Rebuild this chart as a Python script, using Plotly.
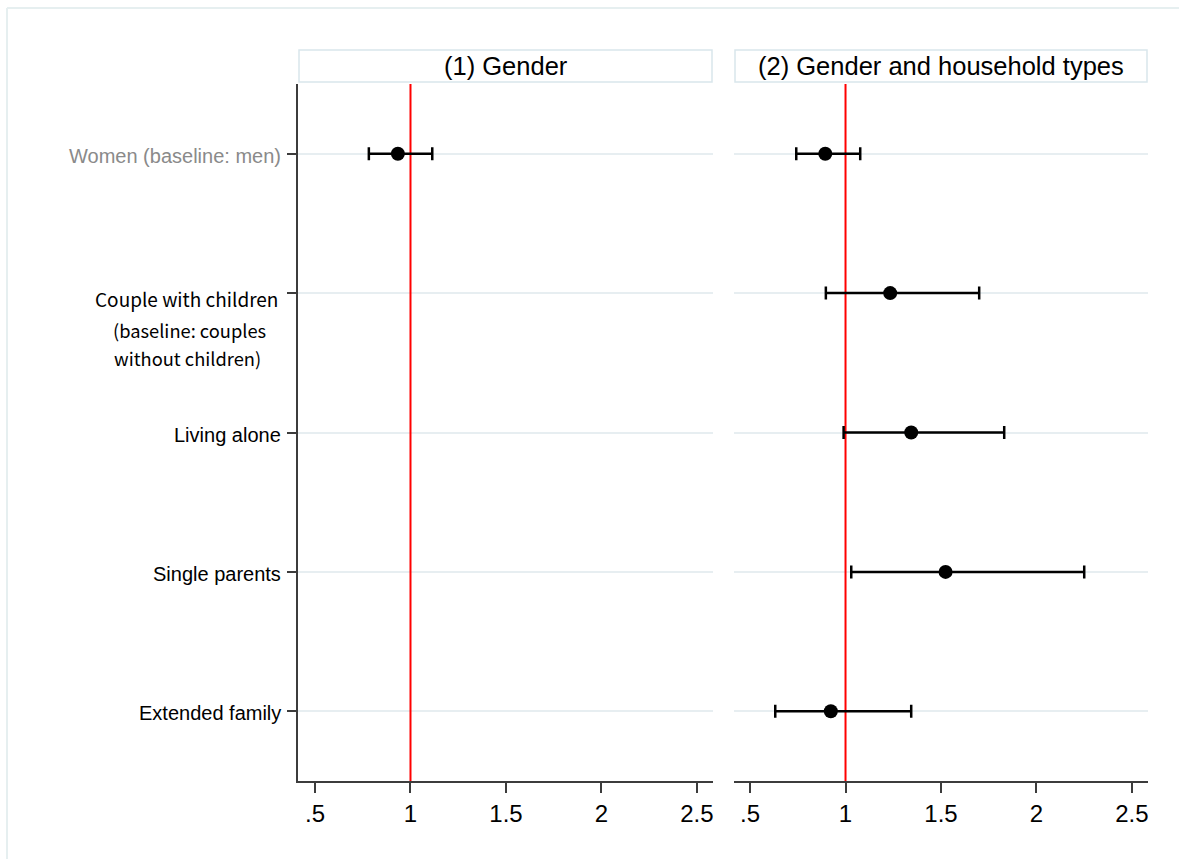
import plotly.graph_objects as go

# Odds ratios with 95% confidence intervals, two model specifications
categories = ["Women (baseline: men)", "Couple with children", "Living alone",
              "Single parents", "Extended family"]
cat_pos = [1, 2, 3, 4, 5]

m1_pos = [1]
m1_est = [0.934]
m1_lo = [0.782]
m1_hi = [1.114]

m2_pos = [1, 2, 3, 4, 5]
m2_est = [0.894, 1.234, 1.344, 1.524, 0.923]
m2_lo = [0.742, 0.897, 0.990, 1.030, 0.632]
m2_hi = [1.077, 1.700, 1.831, 2.250, 1.344]

panel_titles = ["(1) Gender", "(2) Gender and household types"]
xtick_vals = [0.5, 1, 1.5, 2, 2.5]
xtick_text = [".5", "1", "1.5", "2", "2.5"]
ref_value = 1

W, H = 1179, 859
FONT = "Liberation Sans, Arial, sans-serif"
AXIS_COL = "#3c3c3c"
GRID_COL = "#e7eef1"
BOX_COL = "#d9e6ec"


def px_x(p):
    return p / W


def px_y(p):
    return 1 - p / H


dom1 = [px_x(298), px_x(713)]
dom2 = [px_x(734), px_x(1148)]
ydom = [px_y(781), px_y(84)]

fig = go.Figure()


def add_panel(xa, ya, pos, est, lo, hi):
    # reference line at odds ratio 1
    fig.add_trace(go.Scatter(
        x=[ref_value, ref_value], y=[0.5, 5.5], mode="lines",
        line=dict(color="#ff0000", width=2), xaxis=xa, yaxis=ya,
        showlegend=False, hoverinfo="skip"))
    fig.add_trace(go.Scatter(
        x=est, y=pos, mode="markers",
        marker=dict(color="black", size=14),
        error_x=dict(type="data", symmetric=False,
                     array=[h - e for h, e in zip(hi, est)],
                     arrayminus=[e - l for e, l in zip(est, lo)],
                     color="black", thickness=2.5, width=6.5),
        xaxis=xa, yaxis=ya, showlegend=False))


add_panel("x", "y", m1_pos, m1_est, m1_lo, m1_hi)
add_panel("x2", "y2", m2_pos, m2_est, m2_lo, m2_hi)

xaxis_common = dict(
    tickvals=xtick_vals, ticktext=xtick_text, showgrid=False, zeroline=False,
    showline=True, linecolor=AXIS_COL, linewidth=2,
    ticks="outside", ticklen=10, tickwidth=2, tickcolor=AXIS_COL,
    tickfont=dict(family=FONT, size=24, color="black"),
)

fig.update_layout(
    width=W, height=H, margin=dict(l=0, r=0, t=0, b=0),
    paper_bgcolor="white", plot_bgcolor="white",
    xaxis=dict(domain=dom1, range=[0.411, 2.584], anchor="y", **xaxis_common),
    xaxis2=dict(domain=dom2, range=[0.416, 2.584], anchor="y2", **xaxis_common),
    yaxis=dict(domain=ydom, range=[5.5, 0.5], anchor="x",
               tickvals=cat_pos, showticklabels=False,
               showgrid=True, gridcolor=GRID_COL, gridwidth=2, zeroline=False,
               showline=True, linecolor=AXIS_COL, linewidth=2,
               ticks="outside", ticklen=9, tickwidth=2, tickcolor=AXIS_COL),
    yaxis2=dict(domain=ydom, range=[5.5, 0.5], anchor="x2",
                tickvals=cat_pos, showticklabels=False,
                showgrid=True, gridcolor=GRID_COL, gridwidth=2, zeroline=False,
                showline=False, ticks=""),
)

shapes = []
annotations = []

# panel header boxes with titles
for dom, title in zip([dom1, dom2], panel_titles):
    x0, x1 = dom[0] + px_x(1), dom[1] - px_x(1)
    shapes.append(dict(type="rect", xref="paper", yref="paper",
                       x0=x0, x1=x1, y0=px_y(82), y1=px_y(50),
                       line=dict(color=BOX_COL, width=1.5), fillcolor="white"))
    annotations.append(dict(xref="paper", yref="paper", x=(x0 + x1) / 2,
                            y=px_y(66), text=title, showarrow=False,
                            xanchor="center", yanchor="middle",
                            font=dict(family=FONT, size=25.5, color="black")))

# outer frame edges
shapes.append(dict(type="line", xref="paper", yref="paper",
                   x0=px_x(7), x1=px_x(7), y0=0, y1=px_y(8),
                   line=dict(color="#e6eff0", width=2)))
shapes.append(dict(type="line", xref="paper", yref="paper",
                   x0=px_x(7), x1=1, y0=px_y(8), y1=px_y(8),
                   line=dict(color="#e6eff0", width=2)))

# category labels on the left axis
label_x = px_x(283)
annotations.append(dict(xref="paper", yref="y", x=label_x, y=cat_pos[0],
                        text=categories[0], showarrow=False, xanchor="right",
                        yanchor="middle", yshift=-2,
                        font=dict(family=FONT, size=20, color="#8a8a8a")))
for pos, name in zip(cat_pos[2:], categories[2:]):
    annotations.append(dict(xref="paper", yref="y", x=label_x, y=pos,
                            text=name, showarrow=False, xanchor="right",
                            yanchor="middle", yshift=-2,
                            font=dict(family=FONT, size=20, color="black")))

# multi-line label for couples with children
SUB_FONT = "Noto Sans CJK KR, Noto Sans"
annotations.append(dict(xref="paper", yref="paper", x=px_x(186), y=px_y(298),
                        text=categories[1], showarrow=False, xanchor="center",
                        yanchor="middle",
                        font=dict(family=SUB_FONT, size=19, color="black")))
annotations.append(dict(xref="paper", yref="paper", x=px_x(189), y=px_y(330),
                        text="(baseline: couples", showarrow=False,
                        xanchor="center", yanchor="middle",
                        font=dict(family=SUB_FONT, size=18.3, color="black")))
annotations.append(dict(xref="paper", yref="paper", x=px_x(187), y=px_y(358),
                        text="without children)", showarrow=False,
                        xanchor="center", yanchor="middle",
                        font=dict(family=SUB_FONT, size=18.3, color="black")))

fig.update_layout(shapes=shapes, annotations=annotations)

fig.write_html("out.html")
